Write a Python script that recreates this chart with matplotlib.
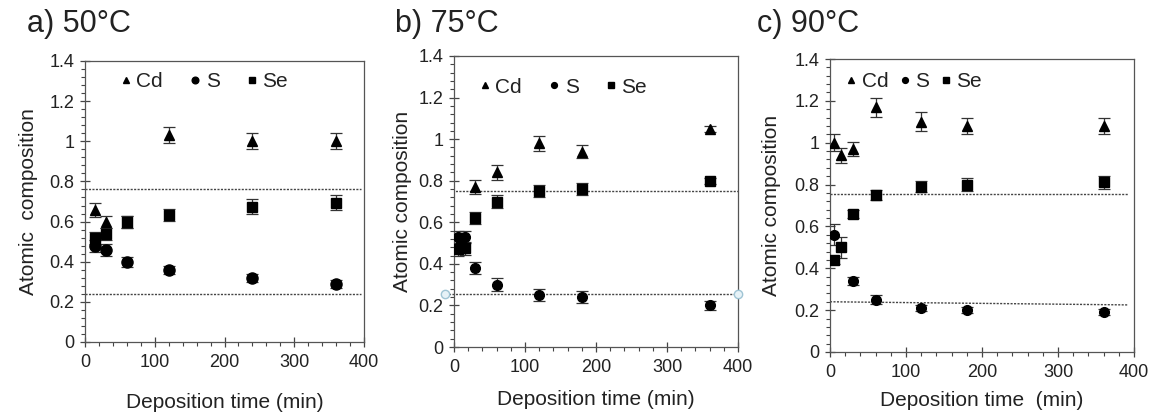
import numpy as np
import matplotlib
matplotlib.use("Agg")
import matplotlib.pyplot as plt
from matplotlib.ticker import MultipleLocator, FuncFormatter

plt.rcParams["font.family"] = ["Liberation Sans", "DejaVu Sans"]
INK = "#222222"

# --- data ---
# a) 50 C
a_t = [15, 30, 60, 120, 240, 360]
a_cd = [0.66, 0.60, 0.60, 1.03, 1.00, 1.00]
a_s = [0.48, 0.46, 0.40, 0.36, 0.32, 0.29]
a_se = [0.52, 0.54, 0.60, 0.635, 0.675, 0.695]
a_cd_err = [0.035, 0.03, 0.03, 0.04, 0.04, 0.04]
a_s_err = [0.03, 0.03, 0.025, 0.02, 0.02, 0.02]
a_se_err = [0.03, 0.03, 0.03, 0.03, 0.035, 0.035]
a_ref_x = [0, 395]
a_ref_hi = [0.76, 0.76]
a_ref_lo = [0.24, 0.24]

# b) 75 C
b_t_cd = [30, 60, 120, 180, 360]
b_cd = [0.77, 0.84, 0.98, 0.94, 1.05]
b_cd_err = [0.035, 0.035, 0.035, 0.03, 0.015]
b_t = [5, 10, 15, 30, 60, 120, 180, 360]
b_s = [0.53, 0.52, 0.53, 0.38, 0.30, 0.25, 0.24, 0.20]
b_s_err = [0.03, 0.03, 0.03, 0.03, 0.03, 0.03, 0.03, 0.02]
b_se = [0.47, 0.48, 0.475, 0.62, 0.70, 0.75, 0.76, 0.80]
b_se_err = [0.03, 0.03, 0.03, 0.03, 0.03, 0.03, 0.03, 0.015]
b_ref_x = [-13, 400]
b_ref_hi = [0.75, 0.75]
b_ref_lo = [0.255, 0.255]

# c) 90 C
c_t = [5, 15, 30, 60, 120, 180, 360]
c_cd = [1.00, 0.94, 0.97, 1.17, 1.10, 1.08, 1.08]
c_cd_err = [0.04, 0.035, 0.035, 0.045, 0.045, 0.04, 0.04]
c_se = [0.44, 0.50, 0.66, 0.75, 0.79, 0.80, 0.81]
c_se_err = [0.02, 0.05, 0.02, 0.025, 0.025, 0.03, 0.03]
c_t_s = [5, 30, 60, 120, 180, 360]
c_s = [0.56, 0.34, 0.25, 0.21, 0.20, 0.19]
c_s_err = [0.05, 0.02, 0.02, 0.015, 0.015, 0.015]
c_ref_x = [0, 392]
c_ref_hi = [0.755, 0.755]
c_ref_lo = [0.24, 0.225]

titles = ["a) 50°C", "b) 75°C", "c) 90°C"]
ylabels = ["Atomic  composition", "Atomic composition", "Atomic composition"]
xlabels = ["Deposition time (min)", "Deposition time (min)", "Deposition time  (min)"]

fig = plt.figure(figsize=(11.62, 4.16), dpi=100)
W, H = 1162, 416
# axes boxes in pixels: left, right, top, bottom
boxes = [(85, 364, 61, 342), (454, 738, 56, 347), (830, 1134, 59, 352)]
axes = [fig.add_axes([l / W, 1 - b / H, (r - l) / W, (b - t) / H]) for l, r, t, b in boxes]

xlabelpad = [16, 10, 7]
ylabelpad = [8, 4.5, 10]


def series(ax, x, y, err, marker, ms, label):
    ax.errorbar(x, y, yerr=err, fmt=marker, ms=ms, color="black", ecolor="#333333",
                elinewidth=0.9, capsize=4, capthick=0.9, label=label, zorder=3)


def style(ax, i):
    ax.set_xlim(0, 400)
    ax.set_ylim(0, 1.4)
    ax.xaxis.set_major_locator(MultipleLocator(100))
    ax.xaxis.set_minor_locator(MultipleLocator(20))
    ax.yaxis.set_major_locator(MultipleLocator(0.2))
    ax.yaxis.set_minor_locator(MultipleLocator(0.04))
    ax.yaxis.set_major_formatter(FuncFormatter(lambda v, p: f"{v:g}"))
    ax.tick_params(which="major", direction="inout", length=7, width=0.9,
                   color="#444444", labelsize=13, labelcolor=INK)
    ax.tick_params(axis="x", which="major", pad=5)
    ax.tick_params(axis="y", which="major", pad=4)
    ax.tick_params(which="minor", length=3, width=0.8, color="#444444")
    for sp in ax.spines.values():
        sp.set_color("#555555")
        sp.set_linewidth(0.9)
    ax.set_ylabel(ylabels[i], fontsize=15, color=INK, labelpad=ylabelpad[i])
    ax.set_xlabel(xlabels[i], fontsize=15, color=INK, labelpad=xlabelpad[i])


def ref_lines(ax, x, hi, lo):
    ax.plot(x, hi, ls=(0, (1.5, 1)), color="#444444", lw=1.0, zorder=2)
    ax.plot(x, lo, ls=(0, (1.5, 1)), color="#444444", lw=1.0, zorder=2)


ax = axes[0]
ref_lines(ax, a_ref_x, a_ref_hi, a_ref_lo)
series(ax, a_t, a_cd, a_cd_err, "^", 7, "Cd")
series(ax, a_t, a_s, a_s_err, "o", 8, "S")
series(ax, a_t, a_se, a_se_err, "s", 6.5, "Se")

ax = axes[1]
ref_lines(ax, b_ref_x, b_ref_hi, b_ref_lo)
ax.lines[-1].set_clip_on(False)
ax.plot(b_ref_x, b_ref_lo, ls="none", marker="o", ms=6, mfc="#e6f2f7",
        mec="#9fc4d4", mew=1, clip_on=False, zorder=4)
series(ax, b_t_cd, b_cd, b_cd_err, "^", 7, "Cd")
series(ax, b_t, b_s, b_s_err, "o", 7, "S")
series(ax, b_t, b_se, b_se_err, "s", 7, "Se")

ax = axes[2]
ref_lines(ax, c_ref_x, c_ref_hi, c_ref_lo)
series(ax, c_t, c_cd, c_cd_err, "^", 7, "Cd")
series(ax, c_t_s, c_s, c_s_err, "o", 7, "S")
series(ax, c_t, c_se, c_se_err, "s", 7, "Se")

legend_anchor = [(0.065, 1.028), (0.028, 0.99), (-0.006, 1.02)]
legend_colsp = [1.35, 1.35, 0.6]
for i, ax in enumerate(axes):
    style(ax, i)
    h, l = ax.get_legend_handles_labels()
    h = [hh[0] for hh in h]
    ax.legend(h, l, loc="upper left", bbox_to_anchor=legend_anchor[i], ncol=3,
              frameon=False, fontsize=15, markerscale=0.6, handlelength=0.4,
              handletextpad=0.3, columnspacing=legend_colsp[i], labelcolor=INK)

title_x = [27, 395, 757]
for tx, t in zip(title_x, titles):
    fig.text(tx / W, 1 - 32 / H, t, fontsize=22, color=INK, va="baseline", ha="left")

fig.savefig("out.png", dpi=100)
